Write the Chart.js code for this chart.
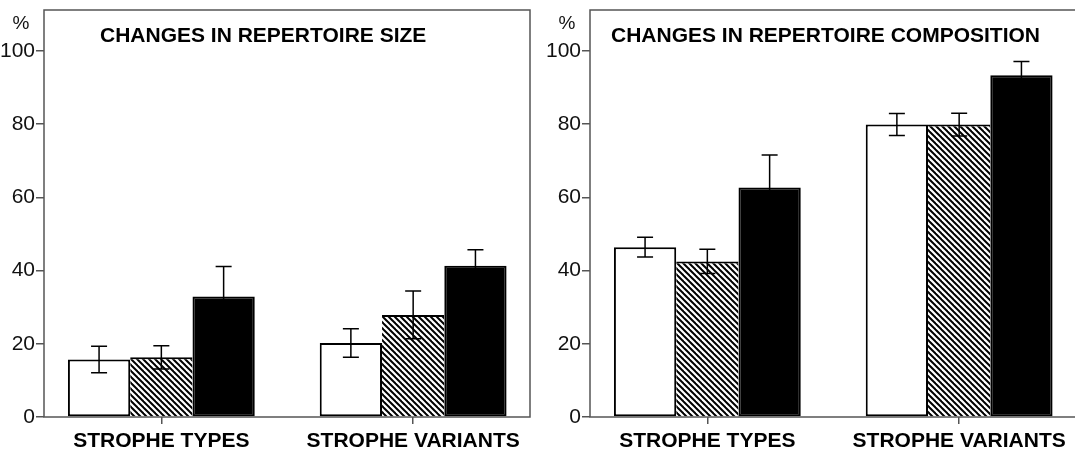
<!DOCTYPE html>
<html>
<head>
<meta charset="utf-8">
<script src="https://cdn.jsdelivr.net/npm/chart.js@4.4.1/dist/chart.umd.min.js"></script>
<style>
  html, body { margin: 0; padding: 0; background: #fff; overflow: hidden; }
  #wrap { position: relative; width: 1075px; height: 450px; overflow: hidden; }
  #left { position: absolute; left: 0; top: 0; }
  #right { position: absolute; left: 540px; top: 0; }
</style>
</head>
<body>
<div id="wrap">
  <canvas id="left" width="540" height="450"></canvas>
  <canvas id="right" width="538" height="450"></canvas>
</div>
<script>
const categories = ['STROPHE TYPES', 'STROPHE VARIANTS'];
const yTicks = [0, 20, 40, 60, 80, 100];

// changes in repertoire size (%), mean and error
const sizeOpen = [15.7, 20.2];
const sizeOpenErr = [3.6, 3.9];
const sizeHatched = [16.3, 27.9];
const sizeHatchedErr = [3.2, 6.5];
const sizeSolid = [32.9, 41.3];
const sizeSolidErr = [8.2, 4.4];

// changes in repertoire composition (%), mean and error
const compOpen = [46.4, 79.9];
const compOpenErr = [2.7, 3.0];
const compHatched = [42.5, 79.9];
const compHatchedErr = [3.3, 3.1];
const compSolid = [62.7, 93.4];
const compSolidErr = [8.9, 3.7];

const FONT = "'Liberation Sans', Arial, sans-serif";

function hatchPattern() {
  const c = document.createElement('canvas');
  c.width = 6; c.height = 6;
  const g = c.getContext('2d');
  g.fillStyle = '#fff';
  g.fillRect(0, 0, 6, 6);
  g.strokeStyle = '#000';
  g.lineWidth = 2;
  for (let k = -1; k <= 1; k++) {
    g.beginPath();
    g.moveTo(-1, -1 + 6 * k);
    g.lineTo(7, 7 + 6 * k);
    g.stroke();
  }
  return g.createPattern(c, 'repeat');
}

const toPoints = arr => arr.map((v, i) => ({ x: i, y: v }));

// frame, title, % sign and error bars
const panelPlugin = {
  id: 'panel',
  beforeDatasetsDraw(chart) {
    const { ctx, chartArea: a } = chart;
    ctx.save();
    ctx.strokeStyle = '#555';
    ctx.lineWidth = 1.5;
    ctx.strokeRect(a.left, a.top, a.right - a.left, a.bottom - a.top);
    ctx.restore();
  },
  afterDatasetsDraw(chart) {
    const { ctx } = chart;
    const yScale = chart.scales.y;
    ctx.save();
    ctx.strokeStyle = '#000';
    ctx.lineWidth = 1.5;
    chart.data.datasets.forEach((ds, di) => {
      const meta = chart.getDatasetMeta(di);
      meta.data.forEach((bar, i) => {
        const v = ds.data[i].y, e = ds.errors[i];
        const yt = yScale.getPixelForValue(v + e);
        const yb = yScale.getPixelForValue(v - e);
        const x = bar.x, cap = 8;
        ctx.beginPath();
        ctx.moveTo(x, yt); ctx.lineTo(x, yb);
        ctx.moveTo(x - cap, yt); ctx.lineTo(x + cap, yt);
        ctx.moveTo(x - cap, yb); ctx.lineTo(x + cap, yb);
        ctx.stroke();
      });
    });
    ctx.restore();
  },
  afterDraw(chart, args, opts) {
    const { ctx, chartArea: a } = chart;
    ctx.save();
    ctx.fillStyle = '#000';
    ctx.font = 'bold 21px ' + FONT;
    ctx.textAlign = 'left';
    ctx.textBaseline = 'alphabetic';
    ctx.fillText(opts.title, a.left + opts.titleOffset, 42);
    ctx.fillStyle = '#111';
    ctx.font = '19px ' + FONT;
    ctx.textAlign = 'center';
    ctx.fillText('%', a.left - 23, 29);
    ctx.restore();
  }
};

function makeChart(id, title, titleOffset, yLeft, series) {
  const pattern = hatchPattern();
  const fills = ['#fff', pattern, '#000'];
  const borders = [2, { top: 2, left: 0, right: 0, bottom: 0 }, 2];
  const names = ['open', 'hatched', 'solid'];
  return new Chart(document.getElementById(id), {
    type: 'bar',
    data: {
      datasets: series.map((s, k) => ({
        label: names[k],
        data: toPoints(s.values),
        errors: s.errors,
        backgroundColor: fills[k],
        borderColor: '#000',
        borderWidth: borders[k],
        borderSkipped: false,
        categoryPercentage: 0.742,
        barPercentage: 1.0
      }))
    },
    plugins: [panelPlugin],
    options: {
      responsive: false,
      animation: false,
      layout: { padding: { top: 10, right: id === 'left' ? 10 : 2, left: 0, bottom: 0 } },
      plugins: {
        legend: { display: false },
        tooltip: { enabled: false },
        panel: { title, titleOffset }
      },
      scales: {
        x: {
          type: 'linear',
          offset: false,
          min: -0.466,
          max: 1.464,
          afterBuildTicks: axis => { axis.ticks = categories.map((c, i) => ({ value: i })); },
          afterFit: axis => { axis.height = 33; axis.paddingLeft = 0; axis.paddingRight = 0; },
          border: { display: false },
          grid: { offset: false, drawOnChartArea: false, drawTicks: true, tickLength: 7, color: '#555', lineWidth: 1.5 },
          ticks: {
            autoSkip: false,
            maxRotation: 0,
            padding: 5,
            color: '#000',
            font: { family: FONT, size: 21, weight: 'bold' },
            callback: v => categories[v]
          }
        },
        y: {
          min: 0,
          max: 111.2,
          afterBuildTicks: axis => { axis.ticks = yTicks.map(v => ({ value: v })); },
          afterFit: axis => { axis.width = yLeft; axis.paddingTop = 0; axis.paddingBottom = 0; },
          border: { display: false },
          grid: { drawOnChartArea: false, drawTicks: true, tickLength: 8, color: '#555', lineWidth: 1.5 },
          ticks: {
            padding: 1,
            color: '#111',
            font: { family: FONT, size: 21 }
          }
        }
      }
    }
  });
}

makeChart('left', 'CHANGES IN REPERTOIRE SIZE', 56, 44, [
  { values: sizeOpen, errors: sizeOpenErr },
  { values: sizeHatched, errors: sizeHatchedErr },
  { values: sizeSolid, errors: sizeSolidErr }
]);

makeChart('right', 'CHANGES IN REPERTOIRE COMPOSITION', 21, 50, [
  { values: compOpen, errors: compOpenErr },
  { values: compHatched, errors: compHatchedErr },
  { values: compSolid, errors: compSolidErr }
]);
</script>
</body>
</html>
